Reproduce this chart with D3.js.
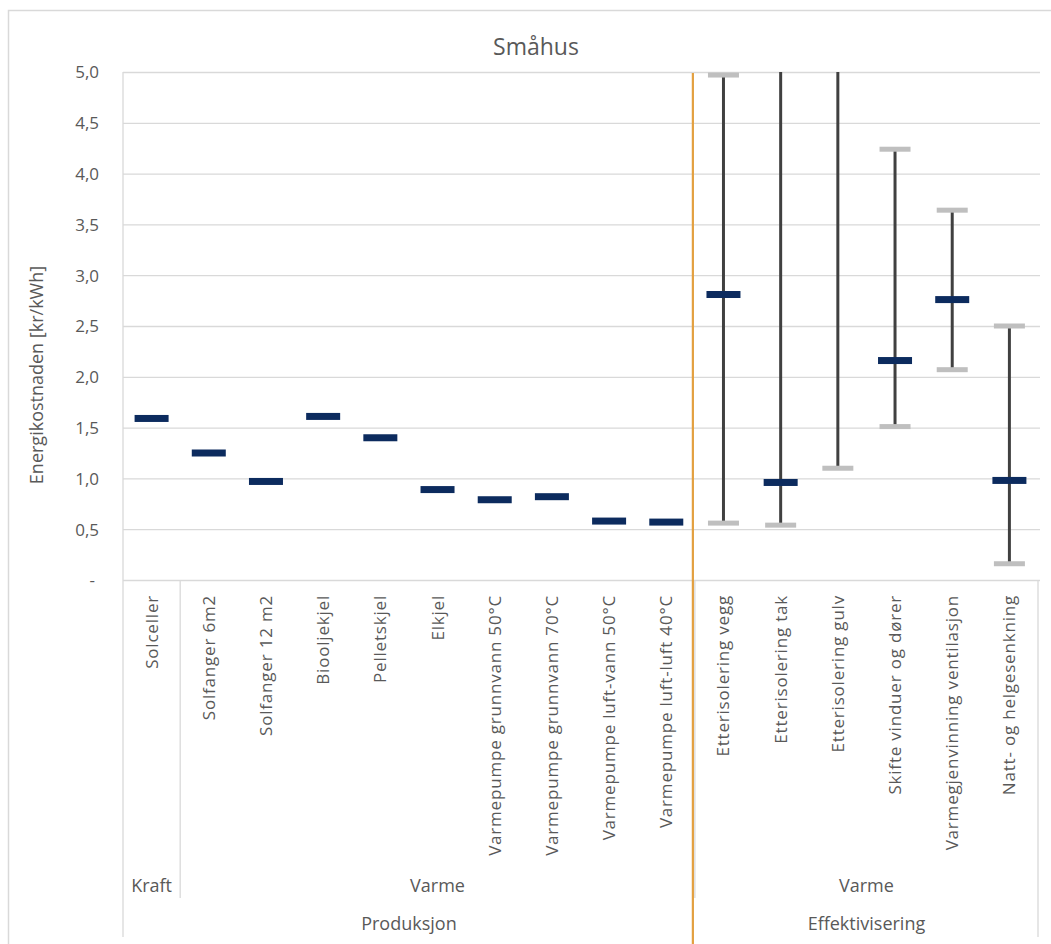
<!DOCTYPE html>
<html>
<head>
<meta charset="utf-8">
<script src="https://cdn.jsdelivr.net/npm/d3@7"></script>
<style>
  html, body { margin: 0; padding: 0; background: #fff; }
  svg text { font-family: "Open Sans", "Liberation Sans", sans-serif; fill: #595959; }
</style>
</head>
<body>
<svg id="chart" width="1051" height="944"></svg>
<script>
// ---- data ----
const title = "Småhus";
const yLabel = "Energikostnaden [kr/kWh]";
const categories = [
  "Solceller", "Solfanger 6m2", "Solfanger 12  m2", "Biooljekjel", "Pelletskjel", "Elkjel",
  "Varmepumpe grunnvann 50°C", "Varmepumpe grunnvann 70°C", "Varmepumpe luft-vann 50°C",
  "Varmepumpe luft-luft 40°C", "Etterisolering vegg", "Etterisolering tak", "Etterisolering gulv",
  "Skifte vinduer og dører", "Varmegjenvinning ventilasjon", "Natt- og helgesenkning"
];
const midValues = [1.59, 1.25, 0.97, 1.61, 1.40, 0.89, 0.79, 0.82, 0.58, 0.57, 2.81, 0.96, null, 2.16, 2.76, 0.98];
const lowValues = [null, null, null, null, null, null, null, null, null, null, 0.56, 0.54, 1.10, 1.51, 2.07, 0.16];
const highValues = [null, null, null, null, null, null, null, null, null, null, 4.97, 6.0, 6.0, 4.24, 3.64, 2.50];
const yTicks = [0, 0.5, 1.0, 1.5, 2.0, 2.5, 3.0, 3.5, 4.0, 4.5, 5.0];
const level1Labels = ["Kraft", "Varme", "Varme"];
const level1Start = [0, 1, 10];
const level1End = [0, 9, 15];
const level2Labels = ["Produksjon", "Effektivisering"];
const level2Start = [0, 10];
const level2End = [9, 15];

// ---- layout ----
const svg = d3.select("#chart");
const L = 123, R = 1038, T = 72, B = 580;
const x = d3.scaleBand().domain(categories).range([L, R]).padding(0);
const y = d3.scaleLinear().domain([0, 5]).range([B, T]);
const fmt = v => v === 0 ? "-" : d3.format(".1f")(v).replace(".", ",");

// outer frame
svg.append("rect").attr("x", 8.5).attr("y", 10.5).attr("width", 1100).attr("height", 1000)
  .attr("fill", "none").attr("stroke", "#d9d9d9").attr("stroke-width", 1.5);

// title
svg.append("text").attr("x", 536).attr("y", 55).attr("text-anchor", "middle")
  .style("font-size", "23px").text(title);

// gridlines + tick labels
const yAxis = d3.axisLeft(y).tickValues(yTicks).tickFormat(fmt).tickSize(-(R - L + 2)).tickPadding(24);
const gy = svg.append("g").attr("transform", `translate(${L},0)`).call(yAxis);
gy.select(".domain").remove();
gy.selectAll(".tick line").attr("stroke", "#d9d9d9").attr("stroke-width", 1.3);
gy.selectAll(".tick text").style("font-size", "17px").attr("fill", "#595959").attr("dy", "0.35em");
gy.selectAll(".tick").filter(d => d === 0).select("text").attr("dx", "-4px");

// left axis line
svg.append("line").attr("x1", L).attr("x2", L).attr("y1", T).attr("y2", B)
  .attr("stroke", "#d9d9d9").attr("stroke-width", 1.3);

// y label
svg.append("text").attr("transform", `translate(43,375) rotate(-90)`)
  .attr("text-anchor", "middle").style("font-size", "18px").text(yLabel);

// category box lines
const box = svg.append("g").attr("stroke", "#d9d9d9").attr("stroke-width", 1.3);
box.append("line").attr("x1", L).attr("x2", L).attr("y1", B).attr("y2", 937);
box.append("line").attr("x1", R).attr("x2", R).attr("y1", B).attr("y2", 937);
level1Start.forEach((s, i) => {
  if (i > 0) {
    const xx = x(categories[s]);
    box.append("line").attr("x1", xx).attr("x2", xx).attr("y1", B).attr("y2", 898);
  }
});

// category labels
svg.append("g").selectAll("text").data(categories).join("text")
  .attr("transform", d => `translate(${x(d) + x.bandwidth() / 2 + 6},595) rotate(-90)`)
  .attr("text-anchor", "end")
  .style("font-size", "17px")
  .style("letter-spacing", "0.8px")
  .text(d => d);

// level 1 labels
svg.append("g").selectAll("text").data(level1Labels).join("text")
  .attr("x", (d, i) => (x(categories[level1Start[i]]) + x(categories[level1End[i]]) + x.bandwidth()) / 2)
  .attr("y", 892).attr("text-anchor", "middle").style("font-size", "18px").text(d => d);

// level 2 labels
svg.append("g").selectAll("text").data(level2Labels).join("text")
  .attr("x", (d, i) => (x(categories[level2Start[i]]) + x(categories[level2End[i]]) + x.bandwidth()) / 2)
  .attr("y", 930).attr("text-anchor", "middle").style("font-size", "18px").text(d => d);

// clip for marks
svg.append("clipPath").attr("id", "plotclip").append("rect")
  .attr("x", L).attr("y", T).attr("width", R - L).attr("height", B - T);
const marks = svg.append("g").attr("clip-path", "url(#plotclip)");

const idx = d3.range(categories.length);
const cx = i => x(categories[i]) + x.bandwidth() / 2;

// error lines
marks.selectAll("line.err").data(idx.filter(i => lowValues[i] != null)).join("line")
  .attr("class", "err")
  .attr("x1", cx).attr("x2", cx)
  .attr("y1", i => y(lowValues[i])).attr("y2", i => y(highValues[i]))
  .attr("stroke", "#404040").attr("stroke-width", 3);

// caps
const capW = 31, capH = 5;
const caps = [];
idx.forEach(i => {
  if (lowValues[i] != null) caps.push({ i, v: lowValues[i] });
  if (highValues[i] != null) caps.push({ i, v: highValues[i] });
});
marks.selectAll("rect.cap").data(caps).join("rect")
  .attr("class", "cap")
  .attr("x", d => cx(d.i) - capW / 2).attr("y", d => y(d.v) - capH / 2)
  .attr("width", capW).attr("height", capH).attr("fill", "#bfbfbf");

// mid marks
const midW = 34, midH = 7;
marks.selectAll("rect.mid").data(idx.filter(i => midValues[i] != null)).join("rect")
  .attr("class", "mid")
  .attr("x", i => cx(i) - midW / 2).attr("y", i => y(midValues[i]) - midH / 2)
  .attr("width", midW).attr("height", midH).attr("fill", "#0c2b5e");

// orange separator
const sepX = x(categories[10]) - 2;
svg.append("line").attr("x1", sepX).attr("x2", sepX).attr("y1", T + 1).attr("y2", 944)
  .attr("stroke", "#e3a040").attr("stroke-width", 2.2);
</script>
</body>
</html>
